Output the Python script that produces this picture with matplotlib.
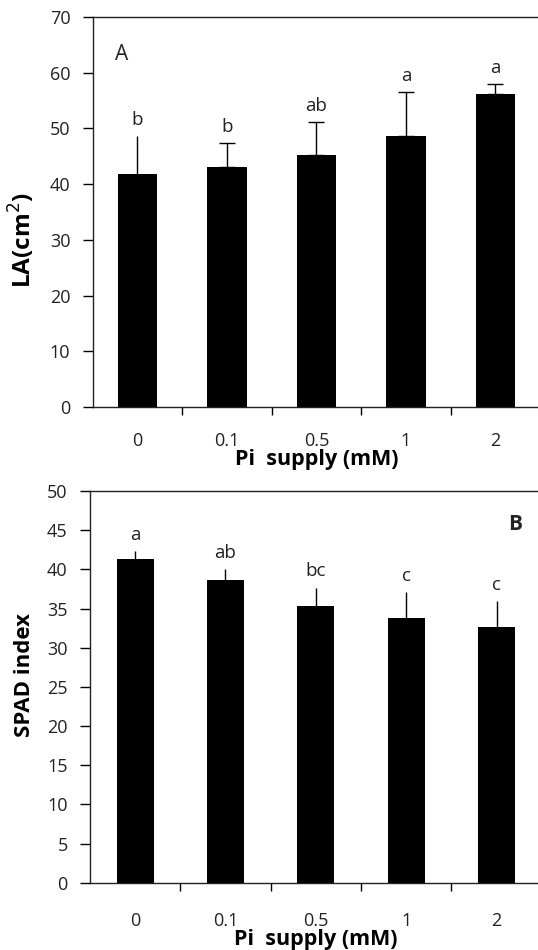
import matplotlib
matplotlib.use('Agg')
import matplotlib.pyplot as plt
import numpy as np

plt.rcParams['font.family'] = ['Open Sans', 'DejaVu Sans']

categories = ['0', '0.1', '0.5', '1', '2']

la_means = [41.8, 43.1, 45.3, 48.6, 56.1]
la_err = [6.8, 4.2, 5.9, 8.0, 1.9]
la_letters = ['b', 'b', 'ab', 'a', 'a']

spad_means = [41.4, 38.6, 35.3, 33.8, 32.6]
spad_err = [0.9, 1.5, 2.4, 3.3, 3.4]
spad_letters = ['a', 'ab', 'bc', 'c', 'c']


def draw_panel(ax, means, errs, letters, caps, ylim, ystep, ylabel, ylabel_size, ylabel_y,
               tag, tag_pos, tag_bold, width, xpad):
    x = np.arange(len(categories))
    ax.bar(x, means, width=width, color='black', zorder=2)
    for i in range(len(x)):
        ax.errorbar(x[i], means[i], yerr=[[0], [errs[i]]], fmt='none', ecolor='black',
                    elinewidth=1.0, capsize=caps[i], capthick=1.0, zorder=1)
        ax.text(x[i], means[i] + errs[i] + ylim * 0.018, letters[i], ha='center', va='bottom',
                fontsize=13.5, color='#222222')
    ax.set_xlim(-0.5, 4.5)
    ax.set_ylim(0, ylim)
    ax.set_yticks(np.arange(0, ylim + 0.1, ystep))
    ax.set_xticks(x)
    ax.set_xticklabels(categories, fontsize=13, color='#222222')
    ax.set_xticks(np.arange(0.5, 4.0, 1.0), minor=True)
    ax.tick_params(axis='x', which='major', length=0, pad=xpad)
    ax.tick_params(axis='x', which='minor', length=6, width=1.0, direction='out')
    ax.tick_params(axis='y', length=7, width=1.0, direction='out', labelsize=13, pad=9,
                   labelcolor='#222222')
    ax.set_ylabel(ylabel, fontsize=ylabel_size, fontweight='bold')
    ax.yaxis.set_label_coords(-0.122, ylabel_y)
    ax.set_xlabel('Pi  supply (mM)', fontsize=15.5, fontweight='bold', labelpad=-1)
    for side in ['left', 'bottom', 'top']:
        ax.spines[side].set_linewidth(1.0)
        ax.spines[side].set_color('#222222')
    ax.spines['right'].set_visible(False)
    ax.text(tag_pos[0], tag_pos[1], tag, fontsize=15, fontweight='bold' if tag_bold else 'normal',
            ha='center', va='center', color='#222222')


fig = plt.figure(figsize=(5.38, 9.5), dpi=100)

ax1 = fig.add_axes([0.172, 0.5716, 0.832, 0.4105])
draw_panel(ax1, la_means, la_err, la_letters, [0, 6, 6, 6, 6], 70, 10,
           'LA(cm$^{2}$)', 17.5, 0.428, 'A', (-0.17, 63.3), False, 0.44, 18)

ax2 = fig.add_axes([0.167, 0.0707, 0.84, 0.4123])
draw_panel(ax2, spad_means, spad_err, spad_letters, [0, 0, 0, 0, 0], 50, 5,
           'SPAD index', 16, 0.53, 'B', (4.2, 45.7), True, 0.41, 21)

fig.savefig('out.png', dpi=100)
